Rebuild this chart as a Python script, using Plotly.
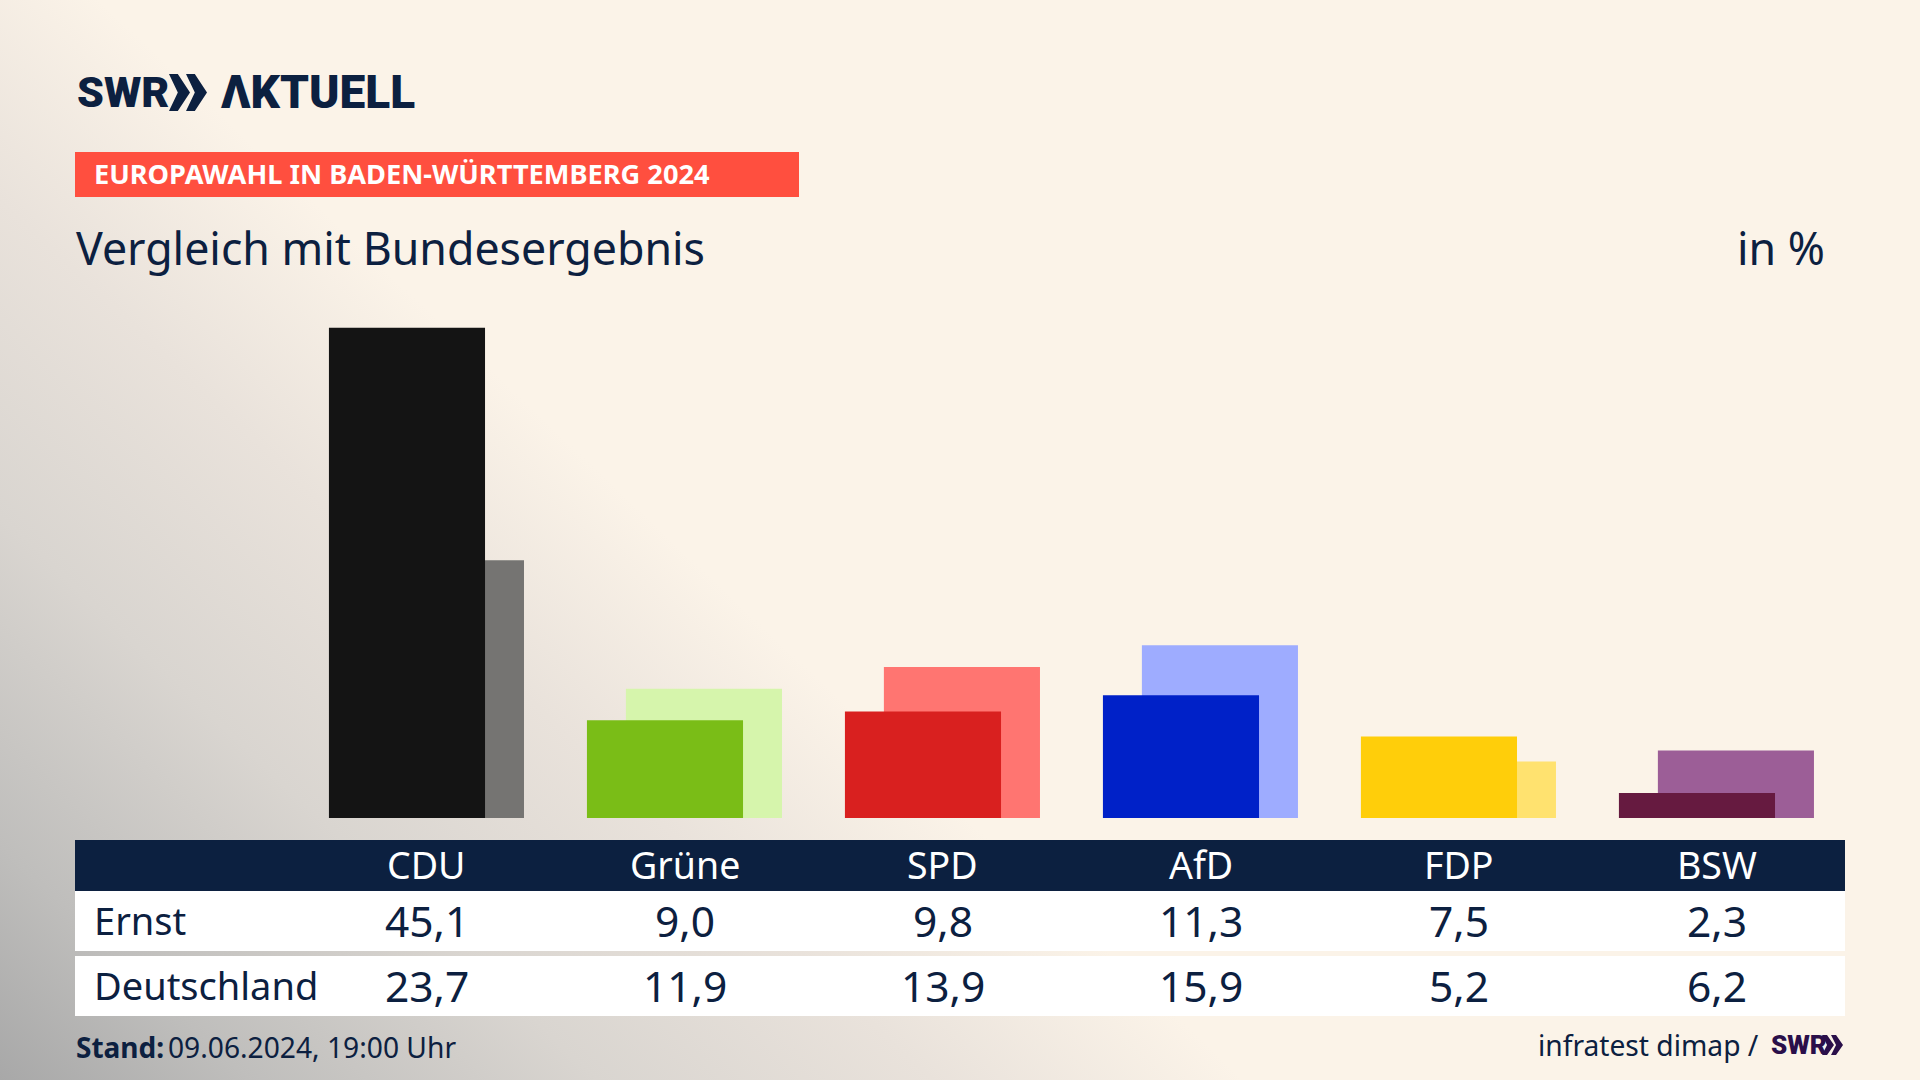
import plotly.graph_objects as go
from urllib.parse import quote

# --- data ---
parties = ["CDU", "Grüne", "SPD", "AfD", "FDP", "BSW"]
ernst = [45.1, 9.0, 9.8, 11.3, 7.5, 2.3]
deutschland = [23.7, 11.9, 13.9, 15.9, 5.2, 6.2]
ernst_colors = ["#141414", "#7ABD17", "#D9201F", "#0021C8", "#FFCE0A", "#661A40"]
deutschland_colors = ["#757472", "#D6F5AC", "#FF7571", "#9EACFF", "#FFE26F", "#9C5E97"]
row_labels = ["Ernst", "Deutschland"]

NAVY = "#0C2040"
FONT = "Noto Sans"
LOGO_FONT = "Roboto"
W, H = 1920, 1080


def de(v):
    return f"{v:.1f}".replace(".", ",")


def px(x):
    return x / W


def py(y):
    return 1 - y / H


def rect(x0, y0, x1, y1, color):
    return dict(type="rect", xref="paper", yref="paper", x0=px(x0), x1=px(x1), y0=py(y1), y1=py(y0),
                fillcolor=color, line_width=0, layer="below")


def poly(points, color):
    d = "M" + " L".join(f"{px(a):.5f},{py(b):.5f}" for a, b in points) + " Z"
    return dict(type="path", xref="paper", yref="paper", path=d, fillcolor=color, line_width=0)


def chevrons(x, top, bottom, w, step, color):
    mid = (top + bottom) / 2
    out = []
    for i in range(2):
        a = x + i * step
        out.append(poly([(a, top), (a + w * 0.42, top), (a + w, mid), (a + w * 0.42, bottom), (a, bottom),
                         (a + w * 0.42, mid)], color))
    return out


def label(x, y, text, size, color=NAVY, anchor="left", xref="paper", bold=False, family=FONT, weight=None):
    if xref == "paper":
        x = px(x)
    font = dict(family=family, size=size, color=color)
    if weight:
        font["weight"] = weight
    return dict(x=x, y=py(y), xref=xref, yref="paper", text=f"<b>{text}</b>" if bold else text, showarrow=False,
                xanchor=anchor, yanchor="middle", font=font)


# background: cream, going diagonally to grey in the bottom left corner
bg_svg = f"""<svg xmlns='http://www.w3.org/2000/svg' width='{W}' height='{H}'>
<defs><linearGradient id='g' gradientUnits='userSpaceOnUse' x1='0' y1='{H}' x2='586' y2='459'>
<stop offset='0' stop-color='#A8A8A8'/><stop offset='0.2' stop-color='#BFBEBC'/>
<stop offset='0.48' stop-color='#D9D5D0'/><stop offset='0.75' stop-color='#E9E2DB'/>
<stop offset='1' stop-color='#FBF3E8'/>
</linearGradient></defs><rect width='{W}' height='{H}' fill='url(#g)'/></svg>"""
bg_uri = "data:image/svg+xml," + quote(bg_svg)

fig = go.Figure()
fig.add_bar(x=parties, y=deutschland, name=row_labels[1], marker_color=deutschland_colors, marker_line_width=0,
            width=0.605, offset=-0.229)
fig.add_bar(x=parties, y=ernst, name=row_labels[0], marker_color=ernst_colors, marker_line_width=0,
            width=0.605, offset=-0.38)

shapes = [
    rect(75, 152, 799, 197, "#FF4F3F"),
    rect(75, 840, 1845, 891, NAVY),
    rect(75, 891, 1845, 951, "#FFFFFF"),
    rect(75, 956, 1845, 1016, "#FFFFFF"),
]
shapes += chevrons(169, 74, 111, 21, 17, NAVY)
shapes += chevrons(1822, 1035, 1055, 12, 9, "#2A0F4A")

annots = [
    label(75, 92, "SWR", 43, family=LOGO_FONT, weight=900),
    label(219, 92, "ΛKTUELL", 46, family=LOGO_FONT, weight=900),
    label(92, 174, "EUROPAWAHL IN BADEN-WÜRTTEMBERG 2024", 27.2, "#FFFFFF", bold=True),
    label(74, 247, "Vergleich mit Bundesergebnis", 44.7),
    label(1827, 247, "in %", 44.7, anchor="right"),
    label(92, 920, row_labels[0], 38),
    label(92, 985, row_labels[1], 38),
    label(74, 1047, "Stand:", 28, bold=True),
    label(166, 1047, "09.06.2024, 19:00 Uhr", 28.2),
    label(1761, 1045, "infratest dimap /", 28.2, anchor="right"),
    label(1769, 1045, "SWR", 26, "#2A0F4A", family=LOGO_FONT, weight=900),
]
for party, a, b in zip(parties, ernst, deutschland):
    annots.append(label(party, 864, party, 37.5, "#FFFFFF", "center", xref="x"))
    annots.append(label(party, 920, de(a), 42.5, NAVY, "center", xref="x"))
    annots.append(label(party, 985, de(b), 42.5, NAVY, "center", xref="x"))

fig.update_layout(
    width=W, height=H, margin=dict(l=0, r=0, t=0, b=0), autosize=False,
    paper_bgcolor="#FBF3E8", plot_bgcolor="rgba(0,0,0,0)",
    barmode="overlay", showlegend=False,
    xaxis=dict(range=[-1.655, 5.787], visible=False, domain=[0, 1], type="category", categoryorder="array",
               categoryarray=parties),
    yaxis=dict(range=[0, 75.25], visible=False, domain=[0.2426, 1]),
    shapes=shapes, annotations=annots,
    images=[dict(source=bg_uri, xref="paper", yref="paper", x=0, y=1, sizex=1, sizey=1, xanchor="left",
                 yanchor="top", sizing="stretch", layer="below")],
)

fig.write_html("out.html", post_script="document.body.style.margin='0';",
               config={"displayModeBar": False})
